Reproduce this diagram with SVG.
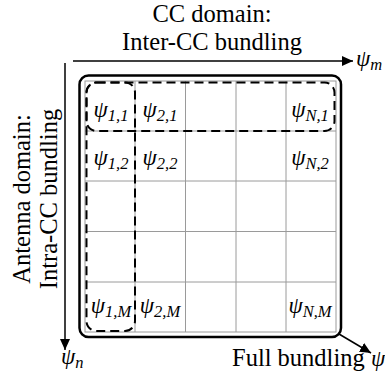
<svg xmlns="http://www.w3.org/2000/svg" width="385" height="372" viewBox="0 0 385 372">
<style>
text{font-family:'Liberation Serif','Times New Roman',serif;fill:#000}
.big{font-size:24.5px}
.psi{font-style:italic;font-size:23px}
.sub{font-size:16.5px}
.grid{stroke:#9a9a9a;stroke-width:1;fill:none}
.dash{fill:none;stroke:#000;stroke-width:2;stroke-dasharray:9 5}
.arrow{stroke:#000;stroke-width:1.5;fill:none;marker-end:url(#ah)}
</style>
<defs>
<marker id="ah" markerUnits="userSpaceOnUse" markerWidth="12" markerHeight="10" refX="11" refY="5" orient="auto">
<path d="M0,0 L11,5 L0,10 Z" fill="#000"/>
</marker>
</defs>
<rect width="385" height="372" fill="#fff"/>
<g id="title-cc">
<text class="big" x="212" y="22" text-anchor="middle">CC domain:</text>
<text class="big" x="212" y="50" text-anchor="middle">Inter-CC bundling</text>
</g>
<g id="title-antenna">
<text class="big" transform="translate(30,199) rotate(-90)" text-anchor="middle">Antenna domain:</text>
<text class="big" transform="translate(57,199) rotate(-90)" text-anchor="middle">Intra-CC bundling</text>
</g>
<g id="full-bundle">
<rect x="79.5" y="75.5" width="261.5" height="261.5" rx="9" fill="none" stroke="#000" stroke-width="2.5"/>
</g>
<g id="grid">
<rect class="grid" x="85" y="81" width="251" height="251"/>
<path class="grid" d="M135,81V332M185.5,81V332M236,81V332M286,81V332M85,131H336M85,181H336M85,231.5H336M85,282H336"/>
</g>
<g id="bundle-row">
<rect class="dash" x="86.5" y="82.5" width="248" height="48.5" rx="10"/>
</g>
<g id="bundle-col">
<rect class="dash" x="86.5" y="82.5" width="48.5" height="248.5" rx="10"/>
</g>
<g id="cells">
<text class="psi" x="111" y="117" text-anchor="middle">ψ<tspan class="sub" dy="4">1,1</tspan></text>
<text class="psi" x="160" y="117" text-anchor="middle">ψ<tspan class="sub" dy="4">2,1</tspan></text>
<text class="psi" x="310" y="117" text-anchor="middle">ψ<tspan class="sub" dy="4">N,1</tspan></text>
<text class="psi" x="111" y="165" text-anchor="middle">ψ<tspan class="sub" dy="4">1,2</tspan></text>
<text class="psi" x="160" y="165" text-anchor="middle">ψ<tspan class="sub" dy="4">2,2</tspan></text>
<text class="psi" x="310" y="165" text-anchor="middle">ψ<tspan class="sub" dy="4">N,2</tspan></text>
<text class="psi" x="111" y="313" text-anchor="middle">ψ<tspan class="sub" dy="4">1,M</tspan></text>
<text class="psi" x="160" y="313" text-anchor="middle">ψ<tspan class="sub" dy="4">2,M</tspan></text>
<text class="psi" x="310" y="313" text-anchor="middle">ψ<tspan class="sub" dy="4">N,M</tspan></text>
</g>
<g id="connectors">
<line class="arrow" x1="73" y1="61" x2="353" y2="61"/>
<line class="arrow" x1="65" y1="63" x2="65" y2="350"/>
<line class="arrow" x1="339" y1="334" x2="371" y2="353"/>
</g>
<g id="axis-labels">
<text class="psi" x="356" y="66">ψ<tspan class="sub" dy="4">m</tspan></text>
<text class="psi" x="61" y="364">ψ<tspan class="sub" dy="4">n</tspan></text>
<text class="big" x="232" y="366">Full bundling</text>
<text class="psi" x="371" y="366">ψ</text>
</g>
</svg>
